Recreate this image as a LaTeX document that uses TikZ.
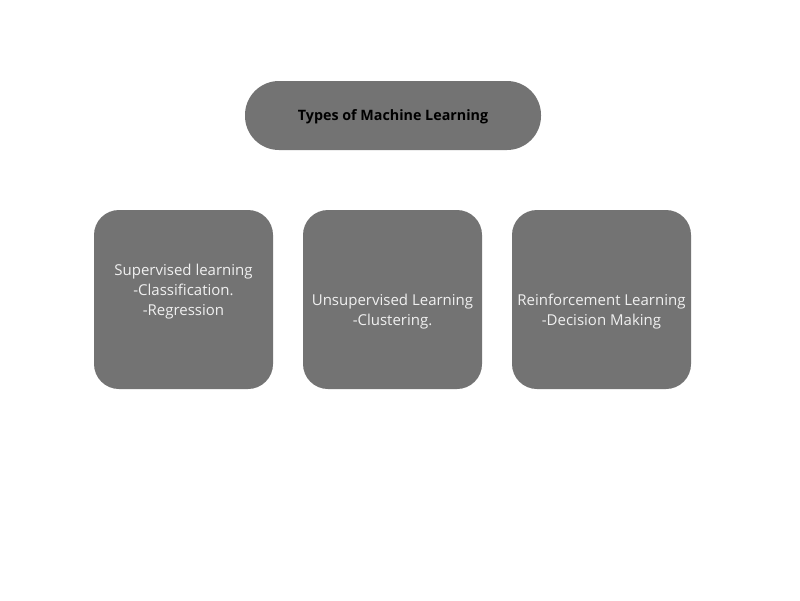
\documentclass[tikz,border=0pt]{standalone}
\usepackage{fontspec}
\setmainfont{Open Sans}
\definecolor{boxgray}{HTML}{737373}
\definecolor{txtlight}{HTML}{F0F0F0}
\begin{document}
\begin{tikzpicture}[x=1pt,y=-1pt,
  titlebox/.style={fill=boxgray,rounded corners=34pt,minimum width=296pt,minimum height=69pt,inner sep=0pt},
  titletext/.style={font=\fontsize{14.3}{18}\selectfont\bfseries,text=black,inner sep=0pt},
  typebox/.style={fill=boxgray,rounded corners=25pt,minimum width=179pt,minimum height=179pt,inner sep=0pt},
  typetext/.style={align=center,font=\fontsize{15}{20}\selectfont,text=txtlight,inner sep=0pt}]
\useasboundingbox[fill=white] (0,0) rectangle (800,600);
\node[titlebox] (title) at (393,115.5) {};
\node[titletext] (titlet) at ([yshift=-1.5pt]title.center) {Types of Machine Learning};
\node[typebox] (sup) at (183.5,299.5) {};
\node[typebox] (uns) at (392.5,299.5) {};
\node[typebox] (rei) at (601.5,299.5) {};
\node[typetext] (supt) at ([yshift=8pt]sup.center) {Supervised learning\\-Classification.\\-Regression};
\node[typetext] (unst) at ([yshift=-12pt]uns.center) {Unsupervised Learning\\-Clustering.};
\node[typetext] (reit) at ([yshift=-12pt]rei.center) {Reinforcement Learning\\-Decision Making};
\end{tikzpicture}
\end{document}
